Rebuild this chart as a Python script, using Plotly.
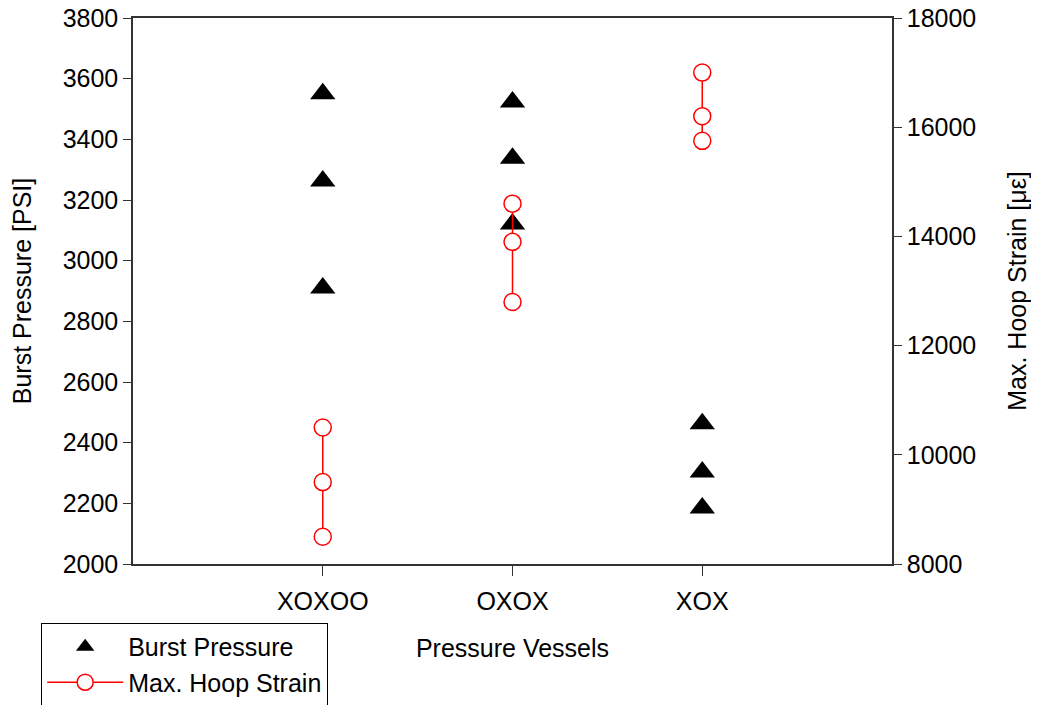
import plotly.graph_objects as go

categories = ["XOXOO", "OXOX", "XOX"]
burst_pressure = {
    "XOXOO": [3550, 3263, 2910],
    "OXOX": [3523, 3338, 3121],
    "XOX": [2462, 2303, 2185],
}
hoop_strain = {
    "XOXOO": [10500, 9500, 8500],
    "OXOX": [14600, 13900, 12800],
    "XOX": [17000, 16200, 15750],
}
y_ticks = list(range(2000, 3801, 200))
y2_ticks = list(range(8000, 18001, 2000))

FONT = "Liberation Sans, Arial, sans-serif"
FS = 25

bx, by = [], []
for i, c in enumerate(categories):
    for v in burst_pressure[c]:
        bx.append(i + 1)
        by.append(v)

sx, sy = [], []
for i, c in enumerate(categories):
    for v in hoop_strain[c]:
        sx.append(i + 1)
        sy.append(v)
    sx.append(None)
    sy.append(None)

fig = go.Figure()
fig.add_trace(go.Scatter(
    x=bx, y=by, mode="markers", name="Burst Pressure",
    marker=dict(symbol="triangle-up", size=22, color="black", line=dict(width=0)),
))
fig.add_trace(go.Scatter(
    x=sx, y=sy, mode="lines+markers", name="Max. Hoop Strain", yaxis="y2",
    line=dict(color="red", width=1.5),
    marker=dict(symbol="circle", size=17, color="white", line=dict(color="red", width=1.5)),
    connectgaps=False,
))

# page body has an 8px default margin: figure sized to fit the window without scrollbars
fig.update_layout(
    width=1023, height=697,
    margin=dict(l=125, r=139, t=10, b=141, autoexpand=False),
    plot_bgcolor="white", paper_bgcolor="white",
    font=dict(family=FONT, size=FS, color="black"),
    showlegend=True,
    legend=dict(
        x=-0.121, y=-0.108, xanchor="left", yanchor="top",
        bordercolor="black", borderwidth=1, bgcolor="white",
        font=dict(family=FONT, size=FS, color="black"),
        itemwidth=76, tracegroupgap=0,
    ),
    xaxis=dict(
        range=[0, 4], tickmode="array", tickvals=[1, 2, 3], ticktext=categories,
        showline=True, linecolor="#333", linewidth=1.5, mirror=True,
        ticks="outside", ticklen=10, tickcolor="#333", showgrid=False, zeroline=False,
        title=dict(text="Pressure Vessels", standoff=26, font=dict(size=FS)),
        tickfont=dict(size=FS), automargin=False, ticklabelstandoff=4,
        ticklabeloverflow="allow",
    ),
    yaxis=dict(
        range=[2000, 3800], tickmode="array", tickvals=y_ticks,
        ticktext=[str(v) for v in y_ticks],
        showline=True, linecolor="#333", linewidth=1.5,
        ticks="outside", ticklen=8, tickcolor="#333", showgrid=False, zeroline=False,
        title=dict(text="Burst Pressure [PSI]", standoff=31, font=dict(size=FS)),
        tickfont=dict(size=FS), automargin=False, ticklabeloverflow="allow",
    ),
    yaxis2=dict(
        range=[8000, 18000], tickmode="array", tickvals=y2_ticks,
        ticktext=[str(v) for v in y2_ticks],
        overlaying="y", side="right",
        showline=True, linecolor="#333", linewidth=1.5,
        ticks="outside", ticklen=8, tickcolor="#333", showgrid=False, zeroline=False,
        title=dict(text="Max. Hoop Strain [με]", standoff=38, font=dict(size=FS)),
        tickfont=dict(size=FS), automargin=False, ticklabeloverflow="allow",
    ),
)

fig.write_html("out.html")
